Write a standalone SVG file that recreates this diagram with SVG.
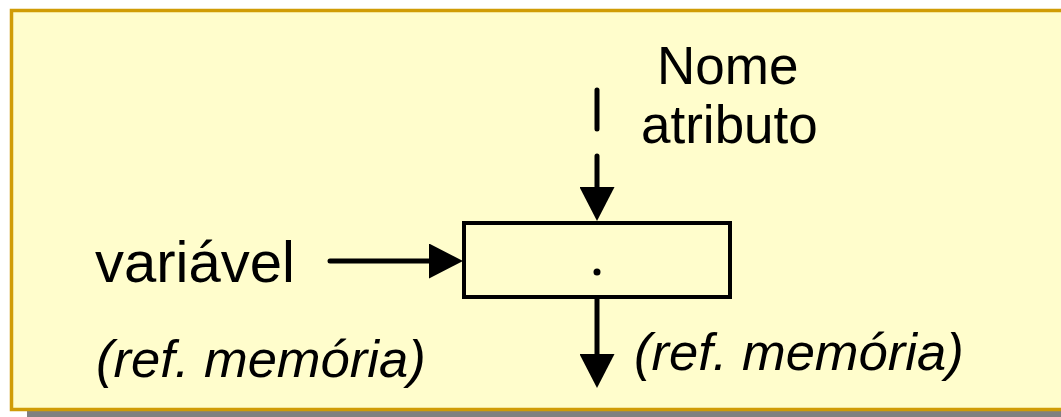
<svg xmlns="http://www.w3.org/2000/svg" width="1061" height="417" viewBox="0 0 1061 417">
  <style>
    .lbl { font-family: "Liberation Sans", Arial, sans-serif; font-size: 56px; fill: #000; }
    .ref { font-family: "Liberation Sans", Arial, sans-serif; font-size: 52.5px; font-style: italic; fill: #000; }
    .wire { stroke: #000; stroke-width: 5; fill: none; }
  </style>
  <defs>
    <marker id="head" viewBox="0 0 34 35" refX="0" refY="17.5" markerWidth="34" markerHeight="35" markerUnits="userSpaceOnUse" orient="auto">
      <path d="M0,0 L34,17.5 L0,35 Z" fill="#000"/>
    </marker>
  </defs>

  <!-- panel with drop shadow -->
  <g id="panel">
    <rect x="27" y="411" width="1034" height="6" fill="#808080"/>
    <rect x="11.5" y="10.5" width="1060" height="399" fill="#FFFDCC" stroke="#D09C06" stroke-width="3.5"/>
  </g>

  <!-- member access box -->
  <g id="box">
    <rect x="464" y="223" width="266" height="74" fill="none" stroke="#000" stroke-width="4"/>
    <circle cx="597" cy="272" r="3.5" fill="#000"/>
  </g>

  <g id="label-variavel">
    <text class="lbl" x="95" y="282" style="font-size:58px">variável</text>
  </g>
  <g id="label-nome">
    <text class="lbl" x="657" y="84" style="font-size:53px">Nome</text>
    <text class="lbl" x="641" y="143" style="font-size:53px">atributo</text>
  </g>
  <g id="label-ref-in">
    <text class="ref" x="96" y="377">(ref. memória)</text>
  </g>
  <g id="label-ref-out">
    <text class="ref" x="634" y="370">(ref. memória)</text>
  </g>

  <g id="connectors">
    <line class="wire" x1="330" y1="261" x2="429" y2="261" stroke-linecap="round" marker-end="url(#head)"/>
    <line class="wire" x1="597" y1="90" x2="597" y2="187" stroke-width="6" stroke-linecap="round" stroke-dasharray="39 27" marker-end="url(#head)"/>
    <line class="wire" x1="597" y1="297" x2="597" y2="354" marker-end="url(#head)"/>
  </g>
</svg>
